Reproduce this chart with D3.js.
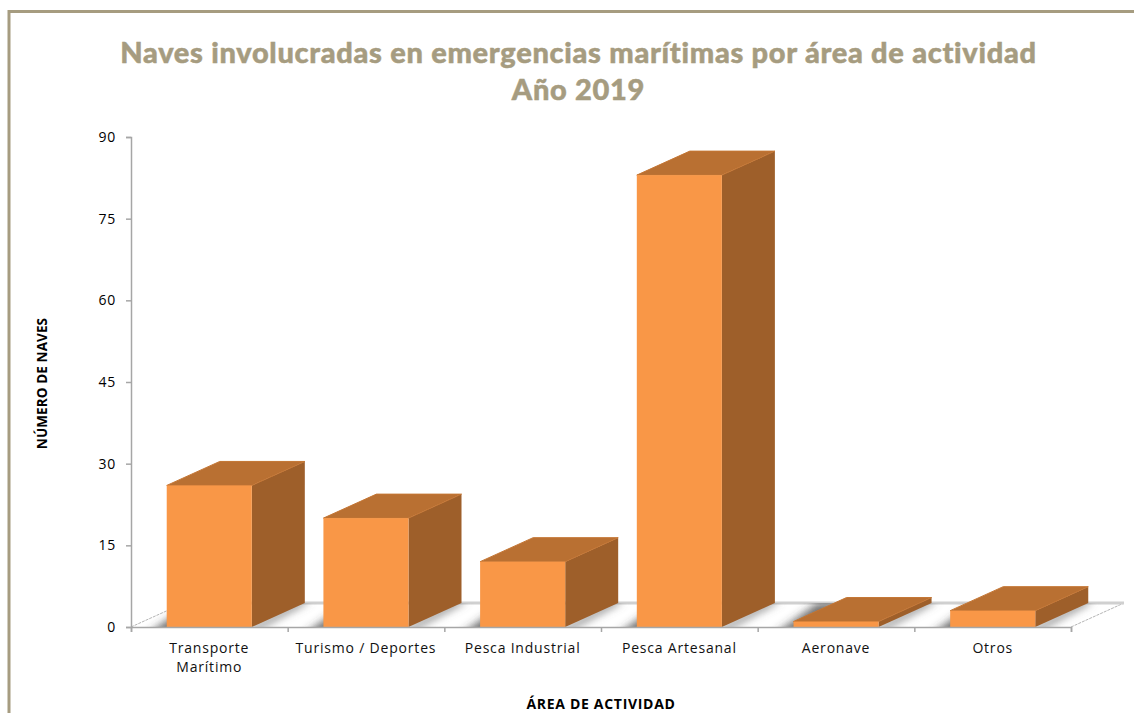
<!DOCTYPE html>
<html>
<head>
<meta charset="utf-8">
<script src="https://cdn.jsdelivr.net/npm/d3@7"></script>
<style>
  html, body { margin: 0; padding: 0; background: #fff; }
  svg { display: block; }
</style>
</head>
<body>
<svg id="chart" width="1134" height="713"></svg>
<script>
const categories = [['Transporte', 'Marítimo'], ['Turismo / Deportes'], ['Pesca Industrial'], ['Pesca Artesanal'], ['Aeronave'], ['Otros']];
const values = [26, 20, 12, 83, 1, 3];
const yTicks = [0, 15, 30, 45, 60, 75, 90];
const titleLines = ['Naves involucradas en emergencias marítimas por área de actividad', 'Año 2019'];
const yLabel = 'NÚMERO DE NAVES';
const xLabel = 'ÁREA DE ACTIVIDAD';

const svg = d3.select('#chart');
const margin = {top: 137, left: 131, bottom: 86, right: 63};
const width = 1134 - margin.left - margin.right;
const height = 713 - margin.top - margin.bottom;
const depth = {x: 53, y: 24};
const frameColor = '#a69c80';
const tickFont = '"Open Sans", sans-serif';

const x = d3.scaleBand().domain(d3.range(categories.length)).range([0, width]).paddingInner(0.457).paddingOuter(0.228);
const y = d3.scaleLinear().domain([0, 90]).range([height, 0]);

// frame: only top and left show, the rest runs off the picture
svg.append('rect')
  .attr('x', 9).attr('y', 11.5).attr('width', 1140).attr('height', 720)
  .attr('fill', 'none').attr('stroke', frameColor).attr('stroke-width', 3);

svg.selectAll('.title')
  .data(titleLines)
  .join('text').attr('class', 'title')
  .attr('x', 578.5)
  .attr('y', (d, i) => 63 + i * 37)
  .attr('text-anchor', 'middle')
  .style('font-family', 'Lato, sans-serif')
  .style('font-weight', 900)
  .style('font-size', '29px')
  .style('letter-spacing', '0.7px')
  .style('fill', frameColor)
  .style('stroke', frameColor)
  .style('stroke-width', 0.5)
  .text(d => d);

const defs = svg.append('defs');
defs.append('filter').attr('id', 'shadowBlur')
  .attr('x', '-50%').attr('y', '-50%').attr('width', '200%').attr('height', '200%')
  .append('feGaussianBlur').attr('stdDeviation', 4);
defs.append('filter').attr('id', 'soft')
  .attr('x', '-5%').attr('y', '-5%').attr('width', '110%').attr('height', '110%')
  .append('feGaussianBlur').attr('stdDeviation', 0.4);
const floorPath = `M0,${height}L${depth.x},${height - depth.y}L${width + depth.x},${height - depth.y}L${width},${height}Z`;

const g = svg.append('g').attr('transform', `translate(${margin.left},${margin.top})`);
defs.append('clipPath').attr('id', 'floorClip').append('path').attr('d', floorPath);

// floor of the 3d box
g.append('line')
  .attr('x1', 0).attr('y1', height).attr('x2', depth.x).attr('y2', height - depth.y)
  .attr('stroke', '#b5b5b5').attr('stroke-dasharray', '3 1');
g.append('line')
  .attr('x1', width).attr('y1', height).attr('x2', width + depth.x).attr('y2', height - depth.y)
  .attr('stroke', '#b5b5b5').attr('stroke-dasharray', '3 1');
g.append('line')
  .attr('x1', depth.x).attr('y1', height - depth.y).attr('x2', width + depth.x).attr('y2', height - depth.y)
  .attr('stroke', '#d0d0d0').attr('stroke-width', 3);

// soft shadows on the floor, one band each side of a bar
const shadows = g.append('g').attr('clip-path', 'url(#floorClip)');
shadows.selectAll('.shadow-left')
  .data(values)
  .join('path').attr('class', 'shadow-left')
  .attr('d', (d, i) => {
    const x0 = x(i);
    return `M${x0 - 20},${height + 8}L${x0 + 10},${height + 8}L${x0 + 54},${height - depth.y}L${x0 + 24},${height - depth.y}Z`;
  })
  .attr('fill', '#3c3c3c')
  .attr('fill-opacity', 0.75)
  .attr('filter', 'url(#shadowBlur)');
shadows.selectAll('.shadow-right')
  .data(values)
  .join('path').attr('class', 'shadow-right')
  .attr('d', (d, i) => {
    const x1 = x(i) + x.bandwidth();
    return `M${x1 - 6},${height + 4}L${x1 + 3},${height + 4}L${x1 + depth.x + 5},${height - depth.y - 2}L${x1 + depth.x - 6},${height - depth.y - 2}Z`;
  })
  .attr('fill', '#707070')
  .attr('filter', 'url(#shadowBlur)');

// bars: side, top, front
const bars = g.append('g').attr('filter', 'url(#soft)')
  .selectAll('.bar').data(values).join('g').attr('class', 'bar');
bars.append('path')
  .attr('d', (d, i) => {
    const x1 = x(i) + x.bandwidth();
    return `M${x1},${y(d)}L${x1 + depth.x},${y(d) - depth.y}L${x1 + depth.x},${height - depth.y}L${x1},${height}Z`;
  })
  .attr('fill', '#9e5f2b');
bars.append('path')
  .attr('d', (d, i) => {
    const x0 = x(i), x1 = x0 + x.bandwidth();
    return `M${x0},${y(d)}L${x0 + depth.x},${y(d) - depth.y}L${x1 + depth.x},${y(d) - depth.y}L${x1},${y(d)}Z`;
  })
  .attr('fill', '#b96f33')
  .attr('stroke', '#c47634')
  .attr('stroke-linejoin', 'round');
bars.append('rect')
  .attr('x', (d, i) => x(i))
  .attr('y', d => y(d))
  .attr('width', x.bandwidth())
  .attr('height', d => height - y(d))
  .attr('fill', '#f99746');

// axes
const yAxis = d3.axisLeft(y).tickValues(yTicks).tickSize(5).tickPadding(10);
const yG = g.append('g').call(yAxis);
const xEdge = d3.scaleLinear().domain([0, categories.length]).range([0, width]);
const xAxis = d3.axisBottom(xEdge).tickValues(d3.range(categories.length + 1)).tickSize(5).tickFormat('');
const xG = g.append('g').attr('transform', `translate(0,${height})`).call(xAxis);
[yG, xG].forEach(a => {
  a.selectAll('path,line').attr('stroke', '#a6a6a6').attr('stroke-width', 1.5);
});
yG.selectAll('text')
  .style('font-family', tickFont).style('font-size', '14px').style('letter-spacing', '0.8px').style('fill', '#000');

g.selectAll('.cat')
  .data(categories)
  .join('text').attr('class', 'cat')
  .attr('text-anchor', 'middle')
  .style('font-family', tickFont)
  .style('font-size', '14px')
  .style('letter-spacing', '0.8px')
  .style('fill', '#111')
  .selectAll('tspan')
  .data((d, i) => d.map(t => ({t, i})))
  .join('tspan')
  .attr('x', d => x(d.i) + x.bandwidth() / 2)
  .attr('y', (d, j) => height + 26 + j * 19)
  .text(d => d.t);

svg.append('text')
  .attr('transform', 'translate(47,383.5) rotate(-90)')
  .attr('text-anchor', 'middle')
  .style('font-family', '"Open Sans", sans-serif')
  .style('font-weight', 700)
  .style('font-size', '13.5px')
  .style('letter-spacing', '0.1px')
  .text(yLabel);
svg.append('text')
  .attr('x', 601).attr('y', 709)
  .attr('text-anchor', 'middle')
  .style('font-family', '"Open Sans", sans-serif')
  .style('font-weight', 700)
  .style('font-size', '14px')
  .style('letter-spacing', '0.7px')
  .text(xLabel);
</script>
</body>
</html>
